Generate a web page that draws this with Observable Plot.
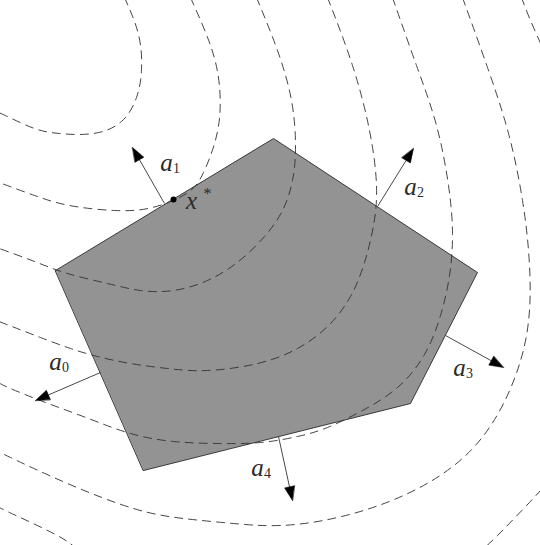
<!DOCTYPE html>
<html>
<head>
<meta charset="utf-8">
<script src="https://cdn.jsdelivr.net/npm/d3@7"></script>
<script src="https://cdn.jsdelivr.net/npm/@observablehq/plot@0.6"></script>
<style>
  html, body { margin: 0; padding: 0; background: #fff; }
  #chart svg { display: block; }
</style>
</head>
<body>
<div id="chart"></div>
<script>
// ---- data (picture coordinates: x to the right, y downward) ----
const polygonX = [55, 273, 477, 410, 143];
const polygonY = [270, 138, 272, 403, 470];

// level curves of the objective (dashed)
const curve1 = [[124,-3],[138,34],[141,69],[136,97],[121,121],[93,133],[59,133],[34,128],[9,117],[-4,111]];
const curve2 = [[190,-3],[210,45],[219,86],[217,131],[203,172],[186,193],[152,207],[114,210],[69,205],[34,195],[-4,181]];
const curve3 = [[256,-3],[277,50],[291,100],[295,145],[292,180],[282,210],[264,236],[238,261],[207,280],[173,290],[140,290],[107,283],[67,273],[34,261],[-4,247]];
const curve4 = [[327,-3],[352,65],[369,130],[376,185],[373,225],[364,262],[350,296],[328,325],[297,348],[257,363],[207,370],[167,368],[130,363],[97,356],[70,348],[40,337],[-4,320]];
const curve5 = [[392,-3],[416,65],[436,125],[448,185],[452,233],[449,275],[440,315],[424,354],[397,387],[362,410],[327,427],[297,436],[260,442],[217,443],[173,441],[130,433],[88,418],[45,402],[10,388],[-4,381]];
const curve6 = [[462,-3],[487,67],[508,133],[522,200],[529,265],[526,335],[503,403],[463,457],[403,495],[337,517],[280,525],[233,523],[183,518],[133,508],[67,483],[10,457],[-4,450]];
const curve7a = [[521,-3],[530,20],[546,56]];
const curve7b = [[548,478],[540,490],[497,535],[480,550]];
const curve7c = [[-4,505],[9,512],[55,534],[78,550]];

// constraint normals a_i : start on an edge, tip outside
const arrowNames = ["0", "1", "2", "3", "4"];
const arrowX1 = [100, 164, 377, 445, 278];
const arrowY1 = [372, 203, 206, 335, 436];
const arrowX2 = [35, 132, 413, 503, 292];
const arrowY2 = [400, 147, 148, 367, 500];

// labels a_i : letter and subscript positions
const labelAX = [55, 166, 410, 459, 257];
const labelAY = [361, 162, 186, 367, 467];
const labelSubX = [65, 176, 420, 469, 267];
const labelSubY = [367, 168, 192, 373, 473];

// optimum x*
const optX = [173];
const optY = [199];
const optLabelX = [191];
const optLabelY = [200];
const optStarX = [207];
const optStarY = [193];

// ---- build tables ----
const poly = polygonX.map((x, i) => ({x, y: polygonY[i]}));
const curves = [curve1, curve2, curve3, curve4, curve5, curve6, curve7a, curve7b, curve7c];
const curveRows = curves.flatMap((c, k) => c.map(([x, y]) => ({x, y, k})));

const headLen = 14, headHalf = 5;
const shafts = [], heads = [];
arrowNames.forEach((n, i) => {
  const x1 = arrowX1[i], y1 = arrowY1[i], x2 = arrowX2[i], y2 = arrowY2[i];
  const dx = x2 - x1, dy = y2 - y1, L = Math.hypot(dx, dy);
  const ux = dx / L, uy = dy / L, nx = -uy, ny = ux;
  const bx = x2 - ux * headLen, by = y2 - uy * headLen;
  shafts.push({x1, y1, x2: bx, y2: by});
  heads.push({k: n, x: x2, y: y2});
  heads.push({k: n, x: bx + nx * headHalf, y: by + ny * headHalf});
  heads.push({k: n, x: bx - nx * headHalf, y: by - ny * headHalf});
});
const labA = arrowNames.map((n, i) => ({x: labelAX[i], y: labelAY[i], t: "a"}));
const labSub = arrowNames.map((n, i) => ({x: labelSubX[i], y: labelSubY[i], t: n}));

const serif = "'Liberation Serif', 'DejaVu Serif', serif";
const ink = "#2b2b2b";

const chart = Plot.plot({
  width: 540,
  height: 545,
  margin: 0,
  style: {background: "#fff"},
  x: {domain: [0, 540], range: [0, 540], axis: null},
  y: {domain: [0, 545], range: [0, 545], axis: null},
  marks: [
    Plot.line(poly, {x: "x", y: "y", curve: "linear-closed", fill: "#939393", stroke: "#3a3a3a", strokeWidth: 1}),
    Plot.line(curveRows, {x: "x", y: "y", z: "k", curve: "natural", stroke: "#303030", strokeWidth: 0.9, strokeDasharray: "8,6"}),
    Plot.link(shafts, {x1: "x1", y1: "y1", x2: "x2", y2: "y2", stroke: "#333", strokeWidth: 0.9}),
    Plot.line(heads, {x: "x", y: "y", z: "k", curve: "linear-closed", fill: "#000", stroke: "#000", strokeWidth: 0.6}),
    Plot.dot(optX.map((x, i) => ({x, y: optY[i]})), {x: "x", y: "y", r: 3, fill: "#000", stroke: "none"}),
    Plot.text(labA, {x: "x", y: "y", text: "t", fontSize: 25, fontStyle: "italic", fontFamily: serif, fill: ink}),
    Plot.text(labSub, {x: "x", y: "y", text: "t", fontSize: 14, fontFamily: serif, fill: ink}),
    Plot.text(optLabelX.map((x, i) => ({x, y: optLabelY[i], t: "x"})), {x: "x", y: "y", text: "t", fontSize: 25, fontStyle: "italic", fontFamily: serif, fill: ink}),
    Plot.text(optStarX.map((x, i) => ({x, y: optStarY[i], t: "*"})), {x: "x", y: "y", text: "t", fontSize: 16, fontFamily: serif, fill: ink})
  ]
});
document.getElementById("chart").appendChild(chart);
</script>
</body>
</html>
